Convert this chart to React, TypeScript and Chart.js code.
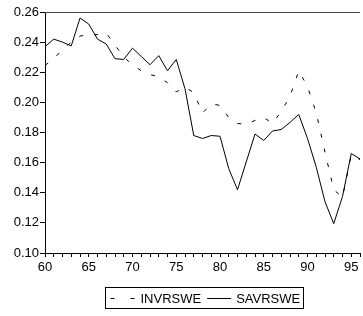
import React, { useEffect, useRef } from "react";
import { Chart, registerables } from "chart.js";

Chart.register(...registerables);

const years = [
  60, 61, 62, 63, 64, 65, 66, 67, 68, 69,
  70, 71, 72, 73, 74, 75, 76, 77, 78, 79,
  80, 81, 82, 83, 84, 85, 86, 87, 88, 89,
  90, 91, 92, 93, 94, 95, 96,
];

const invrswe = [
  0.2245, 0.229, 0.235, 0.240, 0.244, 0.245, 0.245, 0.246, 0.238, 0.230,
  0.225, 0.221, 0.2185, 0.217, 0.213, 0.207, 0.210, 0.2065, 0.193, 0.199,
  0.198, 0.190, 0.186, 0.1855, 0.188, 0.190, 0.186, 0.194, 0.204, 0.221,
  0.2105, 0.193, 0.167, 0.142, 0.137, 0.165, 0.162,
];

const savrswe = [
  0.237, 0.242, 0.240, 0.2375, 0.256, 0.252, 0.242, 0.2387, 0.229, 0.2285,
  0.236, 0.2305, 0.225, 0.231, 0.221, 0.2285, 0.209, 0.178, 0.176, 0.178,
  0.1775, 0.156, 0.142, 0.1605, 0.179, 0.1747, 0.181, 0.182, 0.1867, 0.192,
  0.176, 0.157, 0.134, 0.1195, 0.1375, 0.166, 0.1625,
];

const seriesNames = ["INVRSWE", "SAVRSWE"];
const yTicks = [0.1, 0.12, 0.14, 0.16, 0.18, 0.2, 0.22, 0.24, 0.26];

const FONT = "'Liberation Sans', Arial, sans-serif";

const frameAndLegend = {
  id: "frameAndLegend",
  afterDraw(chart: any) {
    const { ctx, chartArea } = chart;
    ctx.save();
    // top frame line
    ctx.strokeStyle = "#444";
    ctx.lineWidth = 1;
    ctx.beginPath();
    ctx.moveTo(chartArea.left, Math.round(chartArea.top) + 0.5);
    ctx.lineTo(chartArea.right, Math.round(chartArea.top) + 0.5);
    ctx.stroke();

    // legend box
    ctx.font = `13px ${FONT}`;
    const w1 = ctx.measureText(seriesNames[0]).width;
    const w2 = ctx.measureText(seriesNames[1]).width;
    const sample = 24;
    const inner = sample + 6 + w1 + 6 + sample + 5 + w2;
    const padL = 5;
    const padR = 3;
    const boxW = inner + padL + padR;
    const cx = (chartArea.left + chartArea.right) / 2 + 1;
    const boxL = Math.round(cx - boxW / 2) + 0.5;
    const boxT = Math.round(chartArea.bottom + 34) + 0.5;
    const boxH = 21;
    ctx.strokeStyle = "#000";
    ctx.strokeRect(boxL, boxT, Math.round(boxW), boxH);

    const lineY = Math.round(boxT + 11) - 0.5;
    let x = boxL + padL;
    ctx.beginPath();
    ctx.setLineDash([4, 16]);
    ctx.moveTo(x, lineY);
    ctx.lineTo(x + sample, lineY);
    ctx.stroke();
    ctx.setLineDash([]);
    x += sample + 6;
    ctx.fillStyle = "#000";
    ctx.textBaseline = "alphabetic";
    ctx.textAlign = "left";
    ctx.fillText(seriesNames[0], x, boxT + 15);
    x += w1 + 6;
    ctx.beginPath();
    ctx.moveTo(x, lineY);
    ctx.lineTo(x + sample, lineY);
    ctx.stroke();
    x += sample + 5;
    ctx.fillText(seriesNames[1], x, boxT + 15);
    ctx.restore();
  },
};

export default function App() {
  const ref = useRef<HTMLCanvasElement | null>(null);

  useEffect(() => {
    if (!ref.current) return;
    const chart = new Chart(ref.current, {
      type: "line",
      data: {
        datasets: [
          {
            label: seriesNames[0],
            data: years.map((y, i) => ({ x: y, y: invrswe[i] })),
            borderColor: "#000",
            borderWidth: 1,
            borderDash: [4, 11],
            pointRadius: 0,
            tension: 0,
            fill: false,
          },
          {
            label: seriesNames[1],
            data: years.map((y, i) => ({ x: y, y: savrswe[i] })),
            borderColor: "#000",
            borderWidth: 1,
            pointRadius: 0,
            tension: 0,
            fill: false,
          },
        ],
      },
      options: {
        responsive: false,
        animation: false,
        devicePixelRatio: 1,
        layout: { padding: { top: 12, left: 0, right: 0, bottom: 38 } },
        plugins: {
          legend: { display: false },
          tooltip: { enabled: false },
        },
        scales: {
          x: {
            type: "linear",
            min: 60,
            max: 96,
            afterBuildTicks: (scale: any) => {
              scale.ticks = years.map((v) => ({ value: v }));
            },
            afterFit: (scale: any) => {
              scale.height = 25;
            },
            ticks: {
              autoSkip: false,
              maxRotation: 0,
              padding: 3,
              color: "#000",
              font: { family: FONT, size: 13 },
              callback: (v: any) => (Number(v) % 5 === 0 && Number(v) <= 95 ? String(v) : ""),
            },
            grid: {
              display: true,
              drawOnChartArea: false,
              drawTicks: true,
              tickLength: 4,
              color: "#000",
            },
            border: { display: true, color: "#000", width: 1 },
          },
          y: {
            min: 0.1,
            max: 0.26,
            afterBuildTicks: (scale: any) => {
              scale.ticks = yTicks.map((v) => ({ value: v }));
            },
            afterFit: (scale: any) => {
              scale.width = 45;
            },
            ticks: {
              padding: 1,
              color: "#000",
              font: { family: FONT, size: 13 },
              callback: (v: any) => Number(v).toFixed(2),
            },
            grid: {
              display: true,
              drawOnChartArea: false,
              drawTicks: true,
              tickLength: 5,
              color: "#000",
            },
            border: { display: true, color: "#000", width: 1 },
          },
        },
      },
      plugins: [frameAndLegend],
    });
    return () => chart.destroy();
  }, []);

  return (
    <div style={{ position: "fixed", left: 0, top: 0, width: 363, height: 316, background: "#fff" }}>
      <canvas ref={ref} width={363} height={316} style={{ display: "block" }} />
    </div>
  );
}
